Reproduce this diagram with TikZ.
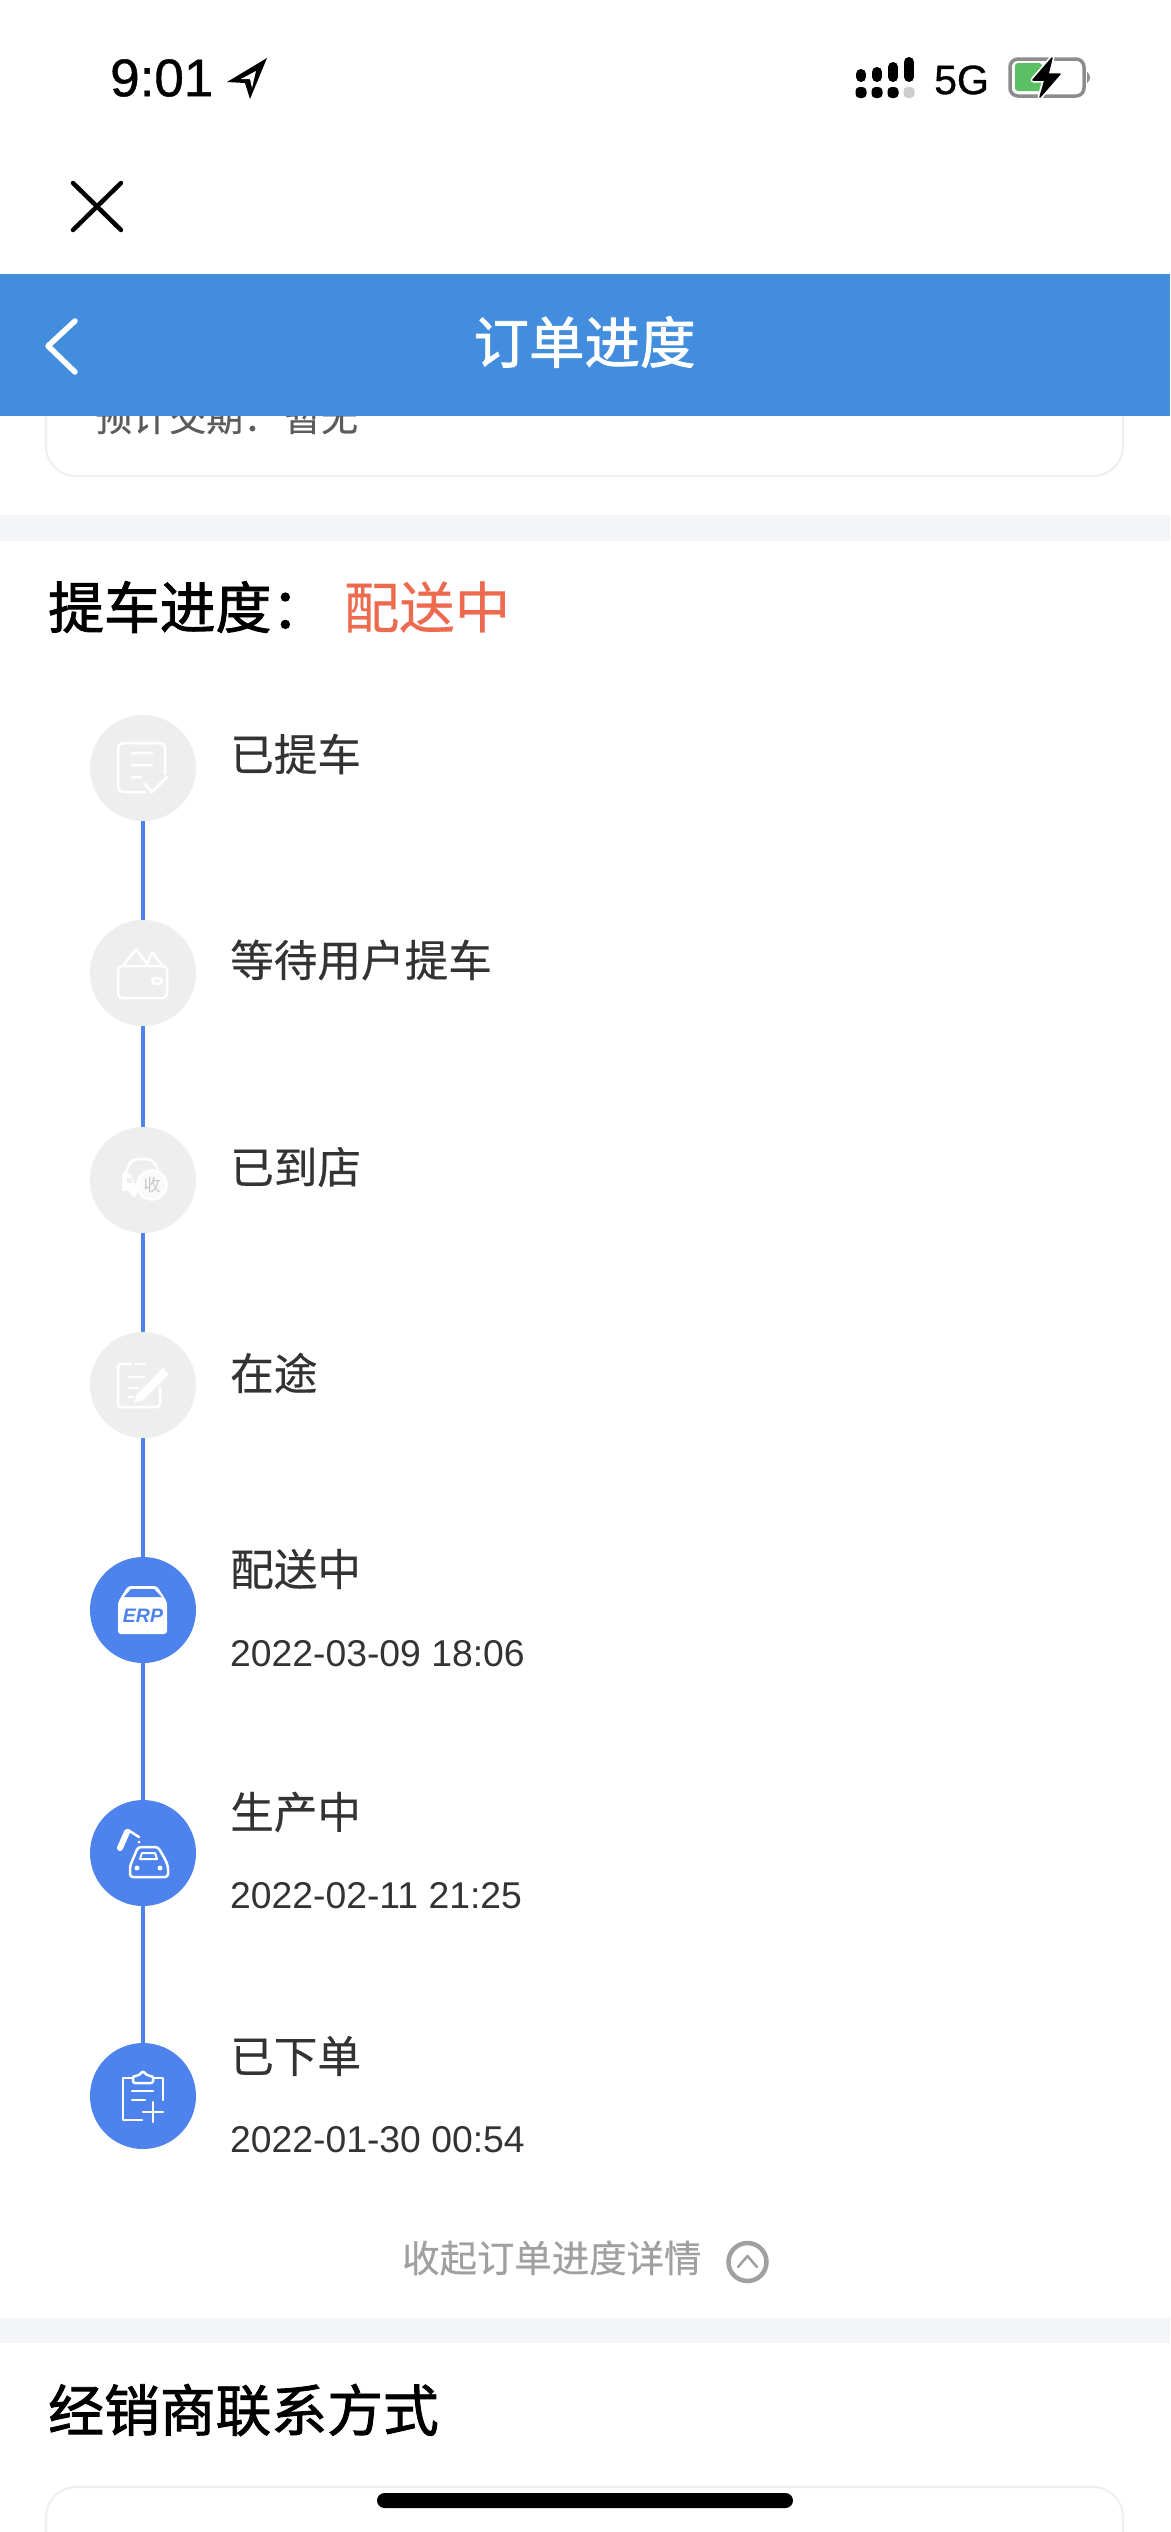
\documentclass[tikz,border=0pt]{standalone}
\usepackage{fontspec}
\setmainfont{Liberation Sans}
\newfontfamily\statusfont[FakeBold=0.8]{Liberation Sans}
\newfontfamily\cjk[FakeBold=0.4]{Noto Sans CJK SC}
\newfontfamily\cjkthin{Noto Sans CJK SC}
\newfontfamily\cjkmid[FakeBold=1.6]{Noto Sans CJK SC}
\definecolor{barblue}{HTML}{428DDD}
\definecolor{stepblue}{HTML}{4E82EC}
\definecolor{stepgrey}{HTML}{EEEEEE}
\definecolor{bandgrey}{HTML}{F4F5F9}
\definecolor{cardline}{HTML}{EFEFEF}
\definecolor{labelgrey}{HTML}{333333}
\definecolor{fadegrey}{HTML}{A0A0A0}
\definecolor{hotorange}{HTML}{EE6A4F}
\definecolor{battgreen}{HTML}{5BBF63}
\newcommand{\px}[1]{\fontsize{#1}{#1}\selectfont}
\tikzset{
  stepdone/.style={shape=circle, fill=stepblue, minimum size=106pt, inner sep=0pt},
  stepwait/.style={shape=circle, fill=stepgrey, minimum size=106pt, inner sep=0pt},
  stepline/.style={draw=stepblue, line width=3.6pt},
  steptext/.style={anchor=west, inner sep=0pt, text=labelgrey, font=\cjk\px{43.6}},
  datetext/.style={anchor=west, inner sep=0pt, text=labelgrey, font=\px{37.3}},
  headtext/.style={anchor=west, inner sep=0pt, font=\cjkmid\px{55.8}},
  iconline/.style={draw=white, line width=2.5pt, line cap=round, line join=round}
}
\begin{document}
\begin{tikzpicture}[x=1pt, y=-1pt]
\useasboundingbox (0,0) rectangle (1170,2532);
\fill[white] (0,0) rectangle (1170,2532);
% card behind the bar
\draw[cardline, line width=2pt, rounded corners=30pt] (46,380) rectangle (1123,476);
\node[anchor=west, inner sep=0pt, text=labelgrey!80, font=\cjk\px{37}] (etatext) at (95,417) {预计交期：\hspace{4pt}暂无};
\fill[barblue] (0,274) rectangle (1170,416);
\fill[bandgrey] (0,515) rectangle (1170,541);
\fill[bandgrey] (0,2318) rectangle (1170,2343);
% status bar
\node[anchor=west, inner sep=0pt, font=\statusfont\px{53}] (clock) at (110,78) {9:01};
\fill[black] (267,58) -- (227,82) -- (245,83) -- (250,99) -- cycle;
\fill[white] (256,71) -- (241,79) -- (250,79) -- (252,88) -- cycle;
\foreach \xx/\yy in {861/69, 877/67, 893/62, 909/57} {
  \draw[black, line width=10pt, line cap=round] (\xx,\yy+5) -- (\xx,77);
}
\foreach \xx in {861, 877, 893} {
  \fill[black, rounded corners=4pt] (\xx-5.5,87) rectangle (\xx+5.5,98);
}
\fill[black!20, rounded corners=4pt] (903.5,87) rectangle (914.5,98);
\node[anchor=west, inner sep=0pt, font=\statusfont\px{41}] (netname) at (934,80) {5G};
\draw[black!45, line width=3.5pt, rounded corners=8pt] (1010,59) rectangle (1084,96);
\fill[battgreen, rounded corners=3pt] (1015,63) rectangle (1042,91);
\fill[black!45] (1087,72) .. controls (1091,74) and (1091,81) .. (1087,83) -- cycle;
\draw[white, line width=5pt, line join=round] (1052,58) -- (1033,80) -- (1045,80) -- (1040,97) -- (1060,74) -- (1048,74) -- cycle;
\fill[black, draw=black, line width=1.5pt, line join=round] (1052,58) -- (1033,80) -- (1045,80) -- (1040,97) -- (1060,74) -- (1048,74) -- cycle;
% close cross and back
\draw[black, line width=4.5pt, line cap=round] (73,183) -- (121,230) (121,183) -- (73,230);
\draw[white, line width=5.5pt, line cap=round, line join=round] (75,321) -- (48,346) -- (75,372);
\node[text=white, inner sep=0pt, font=\cjkmid\px{55.5}] (pagetitle) at (584.5,342) {订单进度};
% heading
\node[headtext] (trackhead) at (48,607) {提车进度：};
\node[anchor=west, inner sep=0pt, text=hotorange, font=\cjk\px{55.5}] (trackstate) at (343.5,607) {配送中};
% steps
\node[stepwait] (st1) at (143,768) {};
\node[stepwait] (st2) at (143,973) {};
\node[stepwait] (st3) at (143,1180) {};
\node[stepwait] (st4) at (143,1385) {};
\node[stepdone] (st5) at (143,1610) {};
\node[stepdone] (st6) at (143,1853) {};
\node[stepdone] (st7) at (143,2096) {};
\draw[stepline] (st1) -- (st2);
\draw[stepline] (st2) -- (st3);
\draw[stepline] (st3) -- (st4);
\draw[stepline] (st4) -- (st5);
\draw[stepline] (st5) -- (st6);
\draw[stepline] (st6) -- (st7);
\node[steptext] (lb1) at (230,754) {已提车};
\node[steptext] (lb2) at (230,960) {等待用户提车};
\node[steptext] (lb3) at (230,1167) {已到店};
\node[steptext] (lb4) at (230,1373) {在途};
\node[steptext] (lb5) at (230,1569) {配送中};
\node[datetext] (dt5) at (230,1654) {2022-03-09 18:06};
\node[steptext] (lb6) at (230,1812) {生产中};
\node[datetext] (dt6) at (230,1896) {2022-02-11 21:25};
\node[steptext] (lb7) at (230,2056) {已下单};
\node[datetext] (dt7) at (230,2140) {2022-01-30 00:54};
% step icons
\begin{scope}[shift={(st1)}]
\draw[iconline, rounded corners=5pt] (2,24) -- (-25,24) -- (-25,-25) -- (22,-25) -- (22,6);
\draw[iconline] (-11,-15) -- (9,-15) (-11,-3) -- (9,-3) (-11,9) -- (-2,9) (2,16) -- (9,24) -- (24,9);
\end{scope}
\begin{scope}[shift={(st2)}]
\draw[iconline, rounded corners=4pt] (-25,-7) rectangle (24,25);
\draw[iconline] (-20,-7) -- (-7,-24) -- (4,-9) -- (9,-21) -- (20,-7);
\draw[iconline] (14,8) ellipse (5pt and 3pt);
\end{scope}
\begin{scope}[shift={(st3)}]
\draw[iconline, rounded corners=5pt] (15,-11) -- (9,-21) -- (-11,-21) -- (-18,-6);
\fill[white, rounded corners=3pt] (-21,-7) -- (-12,-7) -- (-9,4) -- (-6,4) -- (-6,16) -- (-11,18) -- (-13,10) -- (-21,12) -- cycle;
\fill[stepgrey] (-16,-2) rectangle (-11,3);
\fill[white!70!stepgrey, draw=white, line width=2.5pt] (9,5) circle (14.5pt);
\node[text=black!22, inner sep=0pt, font=\cjkthin\px{17}] (shoumark) at (9,5) {收};
\end{scope}
\begin{scope}[shift={(st4)}]
\draw[iconline, rounded corners=3pt] (-12,-21) -- (-25,-21) -- (-25,22) -- (17,22) -- (17,3);
\draw[iconline] (-8,-21) -- (2,-21) (-15,-8) -- (2,-8) (-15,3) -- (-5,3) (-15,12) -- (-10,12);
\fill[white] (20,-17) -- (26,-11) -- (0,15) -- (-9,18) -- (-6,9) -- cycle;
\end{scope}
\begin{scope}[shift={(st5)}]
\fill[white, rounded corners=3pt] (-15,-24) -- (14,-24) -- (24,-8) -- (24,24) -- (-25,24) -- (-25,-8) -- cycle;
\fill[stepblue] (-12,-21) -- (11,-21) -- (19,-13) -- (-19,-13) -- cycle;
\node[text=stepblue, inner sep=0pt, font=\bfseries\itshape\px{19.5}] (erpword) at (0,6) {ERP};
\end{scope}
\begin{scope}[shift={(st6)}]
\draw[white, line width=6pt, line cap=round] (-23,-5) -- (-16,-21);
\draw[iconline] (-15,-23) -- (-4,-16);
\fill[white] (-4,-11) circle (1.5pt);
\draw[iconline, rounded corners=3pt] (-13,24) -- (-13,13) -- (-10,6) -- (-5,-6) -- (15,-6) -- (22,6) -- (25,13) -- (25,24) -- cycle;
\draw[iconline, line width=2pt] (-3,6) -- (-1,0) -- (12,0) -- (14,6) -- cycle;
\fill[white] (-6,15) circle (2.5pt) (17,15) circle (2.5pt);
\end{scope}
\begin{scope}[shift={(st7)}]
\draw[iconline] (-10,-18) -- (-20,-18) -- (-20,24) -- (-1,24) (20,4) -- (20,-18) -- (10,-18);
\draw[iconline, rounded corners=2pt] (-10,-13) -- (-10,-20) -- (-5,-20) -- (0,-25) -- (5,-20) -- (10,-20) -- (10,-13) -- cycle;
\draw[iconline] (-11,-5) -- (10,-5) (-11,4) -- (2,4);
\draw[iconline] (10,6) -- (10,26) (0,16) -- (20,16);
\end{scope}
% collapse link
\node[anchor=west, inner sep=0pt, text=fadegrey, font=\cjk\px{37.4}] (foldtext) at (402,2258) {收起订单进度详情};
\node[shape=circle, draw=fadegrey, line width=4.5pt, minimum size=38pt, inner sep=0pt] (foldicon) at (747.5,2262) {};
\draw[fadegrey, line width=2.5pt, line cap=round, line join=round] (738,2267) -- (747.5,2256) -- (757,2267);
% dealer section
\node[headtext] (dealhead) at (48,2410) {经销商联系方式};
\draw[cardline, line width=2pt, rounded corners=30pt] (46,2560) -- (46,2487) -- (1123,2487) -- (1123,2560);
\fill[black, rounded corners=7.5pt] (377,2493) rectangle (793,2508);
\end{tikzpicture}
\end{document}
